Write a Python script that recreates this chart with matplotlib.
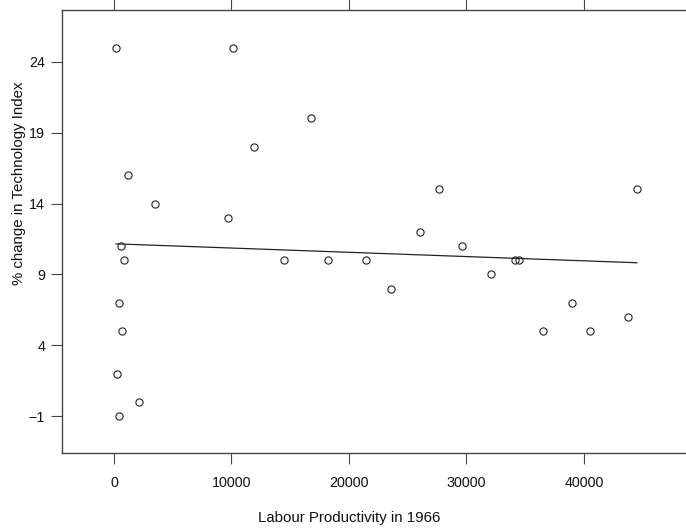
import numpy as np
import matplotlib
matplotlib.use("Agg")
import matplotlib.pyplot as plt

plt.rcParams['font.family'] = ['Liberation Sans', 'DejaVu Sans']

labour_productivity = [170, 10120, 16800, 11900, 1220, 3510, 9720, 620, 850, 400,
                       650, 280, 2130, 450, 14480, 18220, 21490, 23610, 26080, 27640,
                       29650, 32060, 34160, 34500, 36510, 38970, 40560, 43770, 44500]
tech_change = [25, 25, 20, 18, 16, 14, 13, 11, 10, 7,
               5, 2, 0, -1, 10, 10, 10, 8, 12, 15,
               11, 9, 10, 10, 5, 7, 5, 6, 15]
x_ticks = [0, 10000, 20000, 30000, 40000]
y_ticks = [-1, 4, 9, 14, 19, 24]

W, H = 686, 529
fig = plt.figure(figsize=(W / 100, H / 100), dpi=100)
left, right, top, bottom = 61.7, 691, 10, 453.3
ax = fig.add_axes([left / W, 1 - bottom / H, (right - left) / W, (bottom - top) / H])

x = np.array(labour_productivity, dtype=float)
y = np.array(tech_change, dtype=float)
ax.plot(x, y, 'o', mfc='none', mec='#222222', ms=5.2, mew=0.8, clip_on=False)
slope, intercept = np.polyfit(x, y, 1)
xl = np.array([x.min(), x.max()])
ax.plot(xl, intercept + slope * xl, color='#222222', lw=0.9)

ax.set_xlim(-4450, 49120)
ax.set_ylim(-3.61, 27.65)
ax.set_xticks(x_ticks)
ax.set_yticks(y_ticks)
ax.tick_params(axis='both', direction='out', length=8, width=0.8, color='#444444',
               labelsize=10.3, labelcolor='#111111', top=True, right=True)
ax.tick_params(axis='y', pad=4)
ax.tick_params(axis='x', pad=8)
for s in ax.spines.values():
    s.set_color('#444444')
    s.set_linewidth(1.0)

fig.text(349 / W, 1 - 518 / H, 'Labour Productivity in 1966', fontsize=10.8,
         color='#111111', ha='center', va='center')
fig.text(19 / W, 1 - 183 / H, '% change in Technology Index', fontsize=10.8,
         color='#111111', ha='center', va='center', rotation=90)

fig.savefig('out.png', dpi=100)
